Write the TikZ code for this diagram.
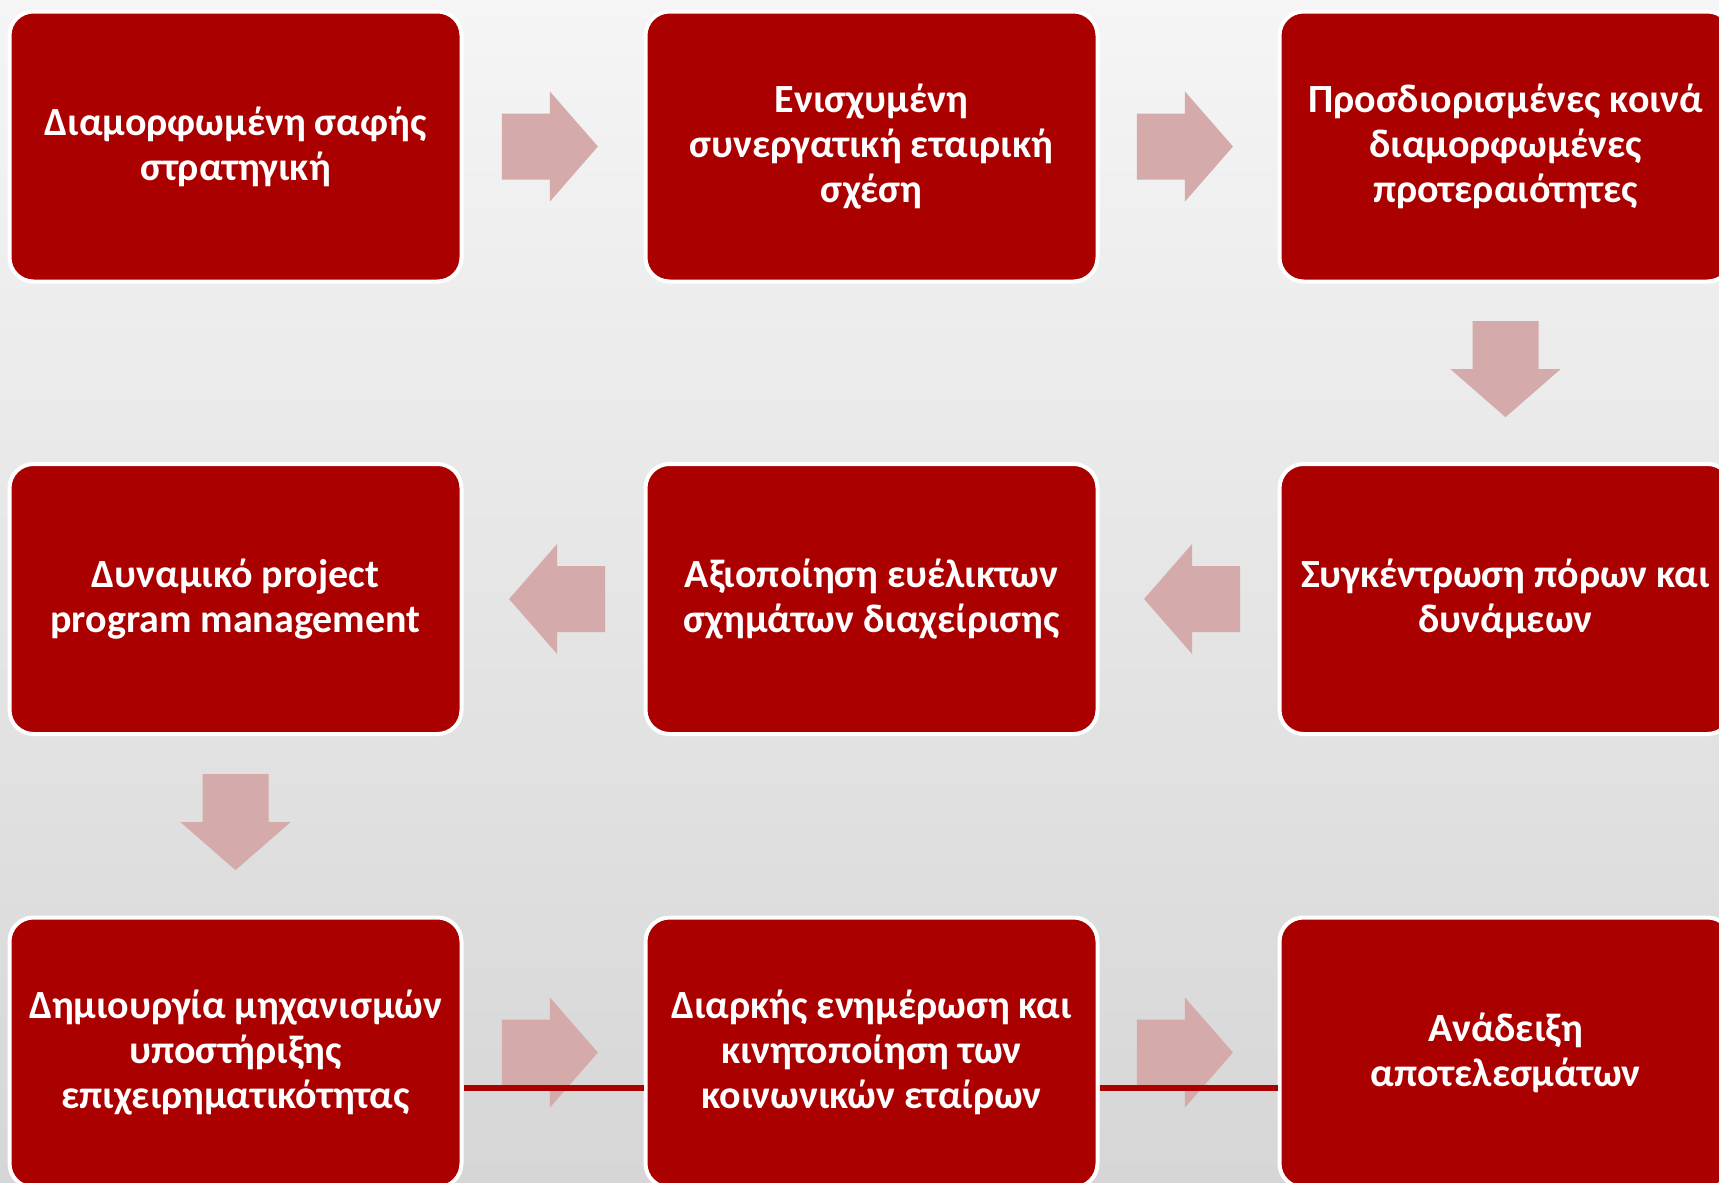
\documentclass[tikz,border=0pt]{standalone}
\usepackage{fontspec}
\setmainfont{Carlito}
\usetikzlibrary{calc}
\definecolor{boxred}{RGB}{170,0,0}
\definecolor{arrowpink}{RGB}{212,170,170}
\definecolor{bgtop}{RGB}{245,245,245}
\definecolor{bgbot}{RGB}{214,214,214}
\begin{document}
\begin{tikzpicture}[x=0.5pt,y=-0.5pt,
  stepbox/.style={rectangle, rounded corners=12pt, fill=boxred, draw=white, line width=2pt,
    minimum width=226pt, minimum height=135pt, align=center,
    text=white, font=\fontsize{20pt}{22.5pt}\selectfont\bfseries, inner sep=0pt},
  flow/.pic={\fill[arrowpink] (-48,-33) -- (0,-33) -- (0,-55) -- (48,0) -- (0,55) -- (0,33) -- (-48,33) -- cycle;},
  link/.style={draw=boxred, line width=3pt}
]
\useasboundingbox (0,0) rectangle (1719,1183);
\shade[top color=bgtop, bottom color=bgbot] (0,0) rectangle (1719,1183);

\node[stepbox] (b1) at (235.5,146.5) {Διαμορφωμένη σαφής\\στρατηγική};
\node[stepbox] (b2) at (871.5,146.5) {Ενισχυμένη\\συνεργατική εταιρική\\σχέση};
\node[stepbox] (b3) at (1505.5,146.5) {Προσδιορισμένες κοινά\\διαμορφωμένες\\προτεραιότητες};
\node[stepbox] (b4) at (1505.5,599) {Συγκέντρωση πόρων και\\δυνάμεων};
\node[stepbox] (b5) at (871.5,599) {Αξιοποίηση ευέλικτων\\σχημάτων διαχείρισης};
\node[stepbox] (b6) at (235.5,599) {Δυναμικό project\\program management};
\node[stepbox] (b7) at (235.5,1052.5) {Δημιουργία μηχανισμών\\υποστήριξης\\επιχειρηματικότητας};
\node[stepbox] (b8) at (871.5,1052.5) {Διαρκής ενημέρωση και\\κινητοποίηση των\\κοινωνικών εταίρων};
\node[stepbox] (b9) at (1505.5,1052.5) {Ανάδειξη\\αποτελεσμάτων};

\pic at ($(b1.east)!0.48!(b2.west)$) {flow};
\pic at ($(b2.east)!0.48!(b3.west)$) {flow};
\pic[rotate=-90] at ($(b3.south)!0.48!(b4.north)$) {flow};
\pic[rotate=180] at ($(b4.west)!0.48!(b5.east)$) {flow};
\pic[rotate=180] at ($(b5.west)!0.48!(b6.east)$) {flow};
\pic[rotate=-90] at ($(b6.south)!0.48!(b7.north)$) {flow};
\pic at ($(b7.east)!0.48!(b8.west)$) {flow};
\pic at ($(b8.east)!0.48!(b9.west)$) {flow};

\draw[link] ($(b7.east)+(0,35)$) -- ($(b8.west)+(0,35)$);
\draw[link] ($(b8.east)+(0,35)$) -- ($(b9.west)+(0,35)$);
\end{tikzpicture}
\end{document}
